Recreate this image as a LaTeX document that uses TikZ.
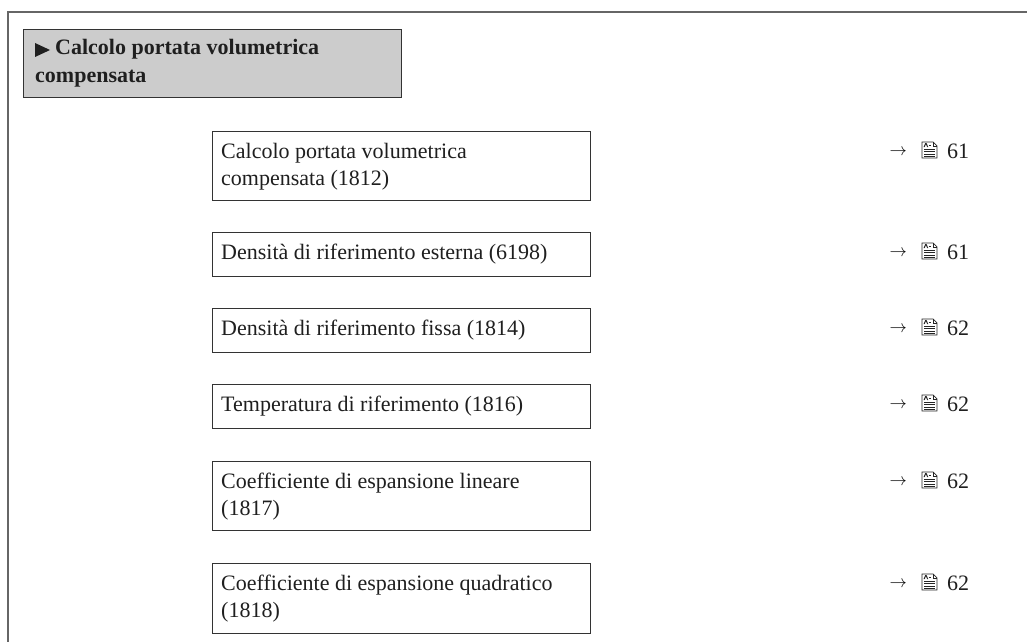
\documentclass[tikz,border=0pt]{standalone}
\usepackage{fontspec}
\setmainfont{Liberation Serif}
\begin{document}
\begin{tikzpicture}[x=1pt,y=-1pt,
  frameline/.style={draw=black!60, line width=1.3pt},
  box/.style={draw=black!80, line width=0.9pt, fill=white, inner sep=0pt, anchor=north west, minimum width=378pt},
  hdrbox/.style={box, fill=black!20, minimum width=378pt},
  txt/.style={anchor=base west, inner sep=0pt, align=left, font=\fontsize{22}{27}\selectfont, text=black!88},
  hdrtxt/.style={txt, font=\fontsize{22}{27}\selectfont\bfseries},
  reftxt/.style={anchor=base west, inner sep=0pt, font=\fontsize{22}{27}\selectfont, text=black!88},
  arrtxt/.style={anchor=base east, inner sep=0pt, font=\fontsize{17}{19}\selectfont, text=black},
  docicon/.pic={
    \draw[line width=0.7pt, black!85, fill=white] (0,0) -- (11,0) -- (15,4) -- (15,16) -- (0,16) -- cycle;
    \draw[line width=0.6pt, black!85] (11,0) -- (11,4) -- (15,4);
    \fill[black!85] (1.5,5.2) -- (3.2,1.2) -- (4.6,1.2) -- (6.3,5.2) -- (5.2,5.2) -- (3.9,2.2) -- (2.6,5.2) -- cycle;
    \draw[line width=0.6pt, black!85] (6.8,3.6) -- (9.2,3.6);
    \foreach \yy in {7.5,9.7,11.9,14.1} \draw[line width=0.7pt, black!85] (2,\yy) -- (13,\yy);
  }
]
\useasboundingbox (0,0) rectangle (1027,642);
% outer frame
\coordinate (ftop) at (8,12);
\coordinate (fright) at (1027,12);
\coordinate (fbot) at (8,642);
\draw[frameline] (fright) -- (ftop) -- (fbot);

% header
\node[hdrbox, minimum height=68pt] (hdr) at (23,29) {};
\fill[black!88] (35,43) -- (50,50) -- (35,57) -- cycle;
\node[hdrtxt] (hdrt1) at (55,55) {Calcolo portata volumetrica};
\node[hdrtxt] (hdrt2) at (35,82) {compensata};

% boxes (two-line texts are placed at the baseline of their last line)
\node[box, minimum height=69pt] (b1) at (212,131) {};
\node[txt] (t1) at (221,185) {Calcolo portata volumetrica\\compensata (1812)};
\node[box, minimum height=44pt] (b2) at (212,232) {};
\node[txt] (t2) at (221,259) {Densità di riferimento esterna (6198)};
\node[box, minimum height=44pt] (b3) at (212,308) {};
\node[txt] (t3) at (221,335) {Densità di riferimento fissa (1814)};
\node[box, minimum height=44pt] (b4) at (212,384) {};
\node[txt] (t4) at (221,411) {Temperatura di riferimento (1816)};
\node[box, minimum height=69pt] (b5) at (212,461) {};
\node[txt] (t5) at (221,515) {Coefficiente di espansione lineare\\(1817)};
\node[box, minimum height=70pt] (b6) at (212,563) {};
\node[txt] (t6) at (221,617) {Coefficiente di espansione quadratico\\(1818)};

% page references
\foreach \n/\yb/\pg in {1/158/61, 2/259/61, 3/335/62, 4/411/62, 5/488/62, 6/590/62}{
  \node[arrtxt] (ra\n) at (907,\yb) {\raisebox{2.8pt}{$\rightarrow$}};
  \pic at (922,\yb-16) {docicon};
  \node[reftxt] (rp\n) at (947,\yb) {\pg};
}
\end{tikzpicture}
\end{document}
